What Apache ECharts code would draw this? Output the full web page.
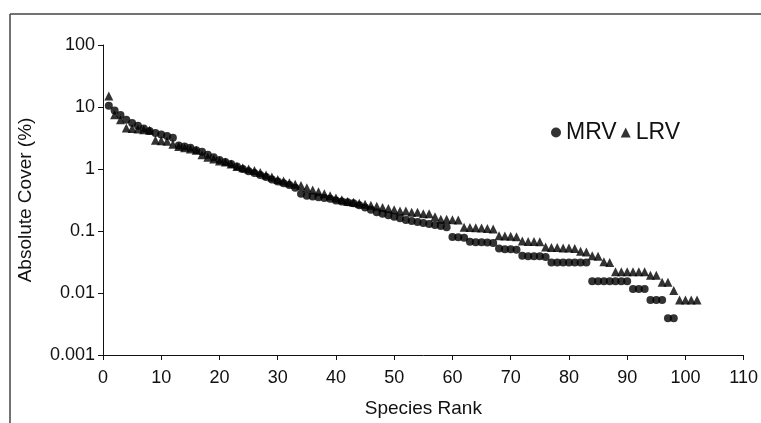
<!DOCTYPE html>
<html>
<head>
<meta charset="utf-8">
<script src="https://cdn.jsdelivr.net/npm/echarts@6/dist/echarts.min.js"></script>
<style>
html,body{margin:0;padding:0;background:#fff;}
#c{width:761px;height:423px;}
</style>
</head>
<body>
<div id="c"></div>
<script>
// Absolute cover (%) by species rank
const mrvValues = [
  10.5, 8.8, 7.4, 6.2, 5.5, 5.0, 4.5, 4.1, 3.8, 3.6,
  3.4, 3.2, 2.4, 2.3, 2.2, 2.0, 1.9, 1.7, 1.55, 1.4,
  1.3, 1.2, 1.1, 1.0, 0.92, 0.86, 0.8, 0.74, 0.68, 0.63,
  0.59, 0.55, 0.5, 0.4, 0.37, 0.36, 0.35, 0.34, 0.33, 0.31,
  0.3, 0.29, 0.28, 0.26, 0.24, 0.22, 0.2, 0.19, 0.18, 0.17,
  0.16, 0.15, 0.145, 0.14, 0.135, 0.13, 0.125, 0.12, 0.115, 0.08,
  0.079, 0.078, 0.067, 0.066, 0.066, 0.065, 0.064, 0.052, 0.051, 0.051,
  0.05, 0.04, 0.039, 0.039, 0.039, 0.038, 0.031, 0.031, 0.031, 0.031,
  0.031, 0.031, 0.031, 0.0155, 0.0155, 0.0155, 0.0155, 0.0155, 0.0155, 0.0155,
  0.0116, 0.0116, 0.0116, 0.0077, 0.0077, 0.0077, 0.0039, 0.0039
];
const lrvValues = [
  15.0, 7.5, 6.2, 4.6, 4.5, 4.4, 4.3, 4.2, 2.9, 2.85,
  2.8, 2.5, 2.3, 2.2, 2.1, 2.0, 1.7, 1.55, 1.45, 1.35,
  1.3, 1.2, 1.1, 1.05, 1.0, 0.95, 0.88, 0.8, 0.74, 0.68,
  0.64, 0.6, 0.57, 0.54, 0.5, 0.46, 0.43, 0.4, 0.37, 0.34,
  0.32, 0.3, 0.29, 0.28, 0.27, 0.26, 0.25, 0.24, 0.23, 0.22,
  0.21, 0.21, 0.2, 0.2, 0.19, 0.19, 0.17, 0.155, 0.154, 0.152,
  0.15, 0.115, 0.114, 0.113, 0.112, 0.11, 0.108, 0.084, 0.083, 0.082,
  0.081, 0.069, 0.068, 0.068, 0.067, 0.055, 0.054, 0.054, 0.053, 0.053,
  0.052, 0.047, 0.046, 0.04, 0.039, 0.032, 0.031, 0.022, 0.022, 0.022,
  0.022, 0.022, 0.022, 0.0193, 0.0193, 0.0149, 0.0149, 0.011, 0.0077, 0.0077,
  0.0077, 0.0077
];
const xTicks = [0, 10, 20, 30, 40, 50, 60, 70, 80, 90, 100, 110];
const yTickLabels = ['0.001', '0.01', '0.1', '1', '10', '100'];

const mrvData = mrvValues.map((v, i) => [i + 1, v]);
const lrvData = lrvValues.map((v, i) => [i + 1, v]);

const chart = echarts.init(document.getElementById('c'), null, {renderer: 'canvas'});
const font = 'Liberation Sans, Arial, sans-serif';
chart.setOption({
  animation: false,
  backgroundColor: '#fff',
  grid: {left: 103, right: 15, top: 45, bottom: 67, containLabel: false},
  legend: {
    left: 546, top: 116,
    itemWidth: 10, itemHeight: 10, itemGap: 4,
    textStyle: {fontFamily: font, fontSize: 23, color: '#111'},
    data: [
      {name: 'MRV', icon: 'circle'},
      {name: 'LRV', icon: 'triangle'}
    ]
  },
  xAxis: {
    type: 'value',
    min: xTicks[0], max: xTicks[xTicks.length - 1], interval: 10,
    name: 'Species Rank', nameLocation: 'middle', nameGap: 44,
    nameTextStyle: {fontFamily: font, fontSize: 19, color: '#111'},
    axisLine: {show: true, lineStyle: {color: '#111', width: 1}},
    axisTick: {show: true, inside: false, length: 5, lineStyle: {color: '#111'}},
    axisLabel: {fontFamily: font, fontSize: 18, color: '#111', margin: 14},
    splitLine: {show: false}
  },
  yAxis: {
    type: 'log', logBase: 10, min: 0.001, max: 100,
    name: 'Absolute Cover (%)', nameLocation: 'middle', nameGap: 68,
    nameTextStyle: {fontFamily: font, fontSize: 19, color: '#111'},
    axisLine: {show: true, lineStyle: {color: '#111', width: 1}},
    axisTick: {show: true, inside: false, length: 5, lineStyle: {color: '#111'}},
    axisLabel: {
      fontFamily: font, fontSize: 18, color: '#111', margin: 8,
      formatter: v => yTickLabels[Math.round(Math.log10(v)) + 3]
    },
    splitLine: {show: false}
  },
  graphic: [
    {type: 'line', shape: {x1: 10, y1: 14, x2: 761, y2: 14}, style: {stroke: '#444', lineWidth: 1.5}, silent: true},
    {type: 'line', shape: {x1: 10, y1: 14, x2: 10, y2: 423}, style: {stroke: '#444', lineWidth: 1.5}, silent: true}
  ],
  series: [
    {name: 'MRV', type: 'scatter', symbol: 'circle', symbolSize: 8,
     itemStyle: {color: '#000'}, data: mrvData, z: 2},
    {name: 'LRV', type: 'scatter', symbol: 'triangle', symbolSize: 9,
     itemStyle: {color: '#000'}, data: lrvData, z: 3}
  ]
});
</script>
</body>
</html>
